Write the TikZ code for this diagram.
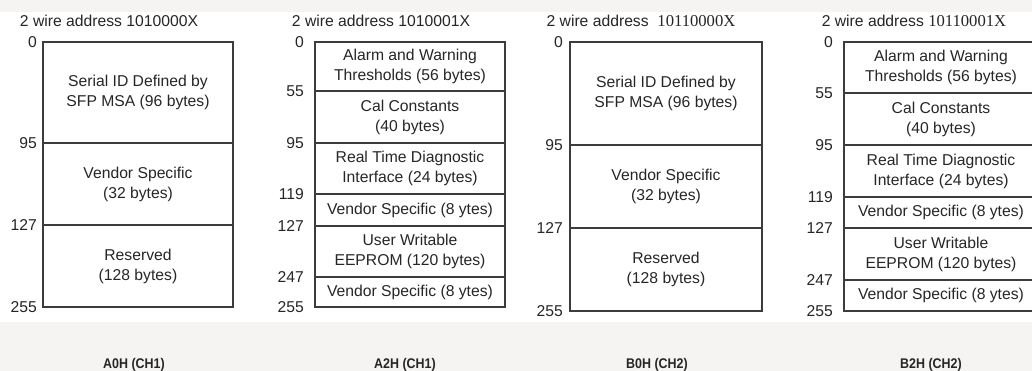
\documentclass[tikz,border=0pt]{standalone}
\usepackage{fontspec}
\setmainfont{Liberation Sans}
\newfontfamily\serifnum[Scale=1.06]{Liberation Serif}
\newfontfamily\capfont[FakeStretch=0.89]{Liberation Sans}
\usetikzlibrary{positioning}
\definecolor{bggray}{HTML}{F5F4F2}
\definecolor{rule}{HTML}{3C3C3C}
\definecolor{ink}{HTML}{262626}
\tikzset{
    % Memory block style
    cell/.style={
        rectangle,
        draw=rule,
        line width=1.3pt,
        minimum width=#1,
        inner sep=0pt,
        outer sep=0pt,
        align=center,
        text=ink,
        font=\fontsize{15.7}{20}\selectfont
    },
    cell/.default=190pt,
    % Offset label style
    offset/.style={
        anchor=east,
        inner sep=0pt,
        text=ink,
        font=\fontsize{15.7}{20}\selectfont
    },
    % Address title style
    addrtitle/.style={
        inner sep=0pt,
        text=ink,
        font=\fontsize{15.7}{20}\selectfont
    },
    % Page caption style
    caption/.style={
        inner sep=0pt,
        text=ink,
        font=\capfont\fontsize{14}{16}\selectfont\bfseries
    }
}

\begin{document}
\begin{tikzpicture}[x=1pt, y=-1pt]

    % Background
    \clip (0,0) rectangle (1032,371);
    \fill[bggray] (0,0) rectangle (1032,12);
    \fill[white] (0,12) rectangle (1032,322);
    \fill[bggray] (0,322) rectangle (1032,371);

    % A0H
    \node[addrtitle] (a0title) at (109,20.5) {2 wire address 1010000X};
    \node[cell, minimum height=101pt] (a0id) at (138,92.5) {Serial ID Defined by\\SFP MSA (96 bytes)};
    \node[cell, minimum height=82pt, below=0pt of a0id] (a0vendor) {Vendor Specific\\(32 bytes)};
    \node[cell, minimum height=82pt, below=0pt of a0vendor] (a0res) {Reserved\\(128 bytes)};
    \node[offset, left=6pt of a0id.north west] (a0o0) {0};
    \node[offset, left=6pt of a0vendor.north west] (a0o95) {95};
    \node[offset, left=6pt of a0res.north west] (a0o127) {127};
    \node[offset, left=6pt of a0res.south west] (a0o255) {255};
    \node[caption] (a0cap) at (134,365) {A0H (CH1)};

    % A2H
    \node[addrtitle] (a2title) at (381,20.5) {2 wire address 1010001X};
    \node[cell, minimum height=49pt] (a2alarm) at (410,66.5) {Alarm and Warning\\Thresholds (56 bytes)};
    \node[cell, minimum height=52pt, below=0pt of a2alarm] (a2cal) {Cal Constants\\(40 bytes)};
    \node[cell, minimum height=51pt, below=0pt of a2cal] (a2diag) {Real Time Diagnostic\\Interface (24 bytes)};
    \node[cell, minimum height=32pt, below=0pt of a2diag] (a2vendor) {Vendor Specific (8 ytes)};
    \node[cell, minimum height=51pt, below=0pt of a2vendor] (a2user) {User Writable\\EEPROM (120 bytes)};
    \node[cell, minimum height=30pt, below=0pt of a2user] (a2vend2) {Vendor Specific (8 ytes)};
    \node[offset, left=11pt of a2alarm.north west] (a2o0) {0};
    \node[offset, left=11pt of a2cal.north west] (a2o55) {55};
    \node[offset, left=11pt of a2diag.north west] (a2o95) {95};
    \node[offset, left=11pt of a2vendor.north west] (a2o119) {119};
    \node[offset, left=11pt of a2user.north west] (a2o127) {127};
    \node[offset, left=11pt of a2vend2.north west] (a2o247) {247};
    \node[offset, left=11pt of a2vend2.south west] (a2o255) {255};
    \node[caption] (a2cap) at (405,365) {A2H (CH1)};

    % B0H
    \node[addrtitle] (b0title) at (641,20.5) {2 wire address\ \ {\serifnum 10110000X}};
    \node[cell=192pt, minimum height=103pt] (b0id) at (666,93.5) {Serial ID Defined by\\SFP MSA (96 bytes)};
    \node[cell=192pt, minimum height=83pt, below=0pt of b0id] (b0vendor) {Vendor Specific\\(32 bytes)};
    \node[cell=192pt, minimum height=83pt, below=0pt of b0vendor] (b0res) {Reserved\\(128 bytes)};
    \node[offset, left=7pt of b0id.north west] (b0o0) {0};
    \node[offset, left=7pt of b0vendor.north west] (b0o95) {95};
    \node[offset, left=7pt of b0res.north west] (b0o127) {127};
    \node[offset, left=7pt of b0res.south west] (b0o255) {255};
    \node[caption] (b0cap) at (657,365) {B0H (CH2)};

    % B2H
    \node[addrtitle] (b2title) at (914,20.5) {2 wire address {\serifnum 10110001X}};
    \node[cell=194pt, minimum height=51pt] (b2alarm) at (941,67.5) {Alarm and Warning\\Thresholds (56 bytes)};
    \node[cell=194pt, minimum height=52pt, below=0pt of b2alarm] (b2cal) {Cal Constants\\(40 bytes)};
    \node[cell=194pt, minimum height=52pt, below=0pt of b2cal] (b2diag) {Real Time Diagnostic\\Interface (24 bytes)};
    \node[cell=194pt, minimum height=31pt, below=0pt of b2diag] (b2vendor) {Vendor Specific (8 ytes)};
    \node[cell=194pt, minimum height=52pt, below=0pt of b2vendor] (b2user) {User Writable\\EEPROM (120 bytes)};
    \node[cell=194pt, minimum height=31pt, below=0pt of b2user] (b2vend2) {Vendor Specific (8 ytes)};
    \node[offset, left=11pt of b2alarm.north west] (b2o0) {0};
    \node[offset, left=11pt of b2cal.north west] (b2o55) {55};
    \node[offset, left=11pt of b2diag.north west] (b2o95) {95};
    \node[offset, left=11pt of b2vendor.north west] (b2o119) {119};
    \node[offset, left=11pt of b2user.north west] (b2o127) {127};
    \node[offset, left=11pt of b2vend2.north west] (b2o247) {247};
    \node[offset, left=11pt of b2vend2.south west] (b2o255) {255};
    \node[caption] (b2cap) at (931,365) {B2H (CH2)};

\end{tikzpicture}
\end{document}
